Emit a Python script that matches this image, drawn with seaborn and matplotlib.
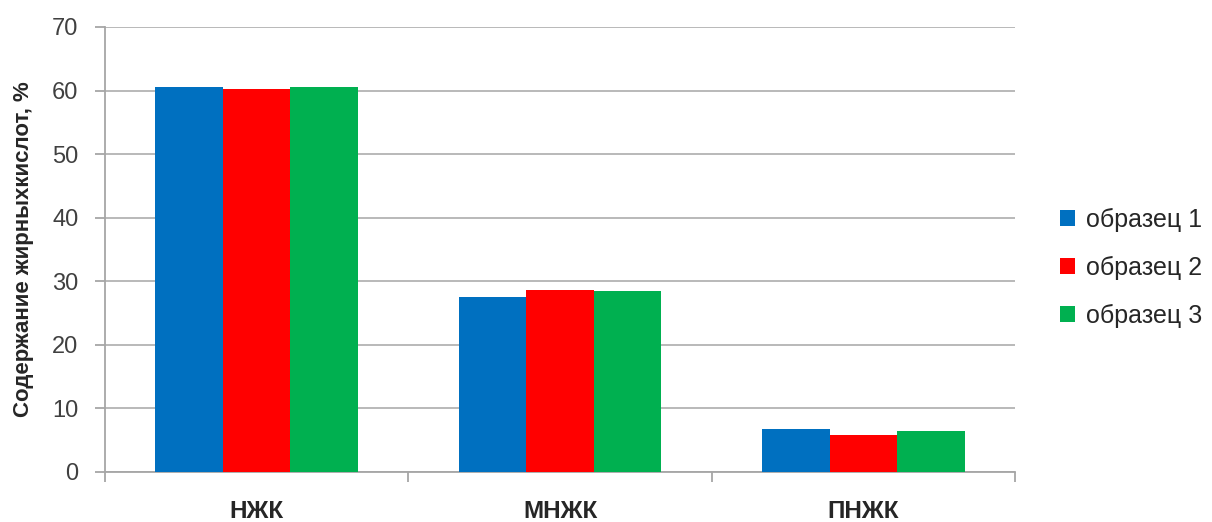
import matplotlib
matplotlib.use("Agg")
import matplotlib.pyplot as plt
import seaborn as sns
import pandas as pd

categories = ["НЖК", "МНЖК", "ПНЖК"]
series_names = ["образец 1", "образец 2", "образец 3"]
sample1 = [60.5, 27.6, 6.7]
sample2 = [60.2, 28.7, 5.8]
sample3 = [60.5, 28.4, 6.4]
yticks = [0, 10, 20, 30, 40, 50, 60, 70]
ylabel = "Содержание жирныхкислот, %"
colors = ["#0070C0", "#FF0000", "#00B050"]

rows = []
for name, vals in zip(series_names, [sample1, sample2, sample3]):
    for c, v in zip(categories, vals):
        rows.append({"cat": c, "series": name, "value": v})
df = pd.DataFrame(rows)

sns.set_theme(style="white")
plt.rcParams['font.family'] = ['Liberation Sans', 'DejaVu Sans']

fig = plt.figure(figsize=(12.12, 5.22), dpi=100)
ax = fig.add_axes([0.0866, 0.0958, 0.751, 0.8525])

sns.barplot(data=df, x="cat", y="value", hue="series", palette=colors,
            order=categories, hue_order=series_names, width=0.667, gap=0,
            saturation=1, ax=ax, zorder=3, edgecolor="none", linewidth=0)

ax.set_ylim(0, 70)
ax.set_xlim(-0.5, 2.5)
ax.set_yticks(yticks)
ax.set_yticklabels([str(t) for t in yticks], fontsize=17, color="#404040")
ax.yaxis.grid(True, color="#B3B3B3", linewidth=1.3, zorder=0)
ax.set_axisbelow(True)
for s in ["top", "right"]:
    ax.spines[s].set_visible(False)
for s in ["left", "bottom"]:
    ax.spines[s].set_color("#A6A6A6")
    ax.spines[s].set_linewidth(1.3)

ax.set_xticks([0, 1, 2])
ax.set_xticklabels(categories, fontsize=17.5, fontweight="bold", color="#262626")
ax.tick_params(axis="x", length=0, pad=20)
ax.tick_params(axis="y", length=7, width=1.3, color="#A6A6A6", direction="out", left=True, pad=12)
# category boundary ticks
ax.set_xticks([-0.5, 0.5, 1.5, 2.5], minor=True)
ax.tick_params(axis="x", which="minor", length=7, width=1.3, color="#A6A6A6", direction="out", bottom=True)

ax.set_xlabel("")
ax.set_ylabel(ylabel, fontsize=16, fontweight="bold", color="#262626")
ax.yaxis.set_label_coords(-(105 - 34) / (0.751 * 1212), 0.5)

handles, labels = ax.get_legend_handles_labels()
ax.legend(handles, labels, loc="center left", bbox_to_anchor=(0.864, 0.487),
          bbox_transform=fig.transFigure, frameon=False, fontsize=18,
          handlelength=0.6, handleheight=0.6, handletextpad=0.45,
          labelspacing=0.95, labelcolor="#262626", borderpad=0)

fig.savefig("out.png", dpi=100)
